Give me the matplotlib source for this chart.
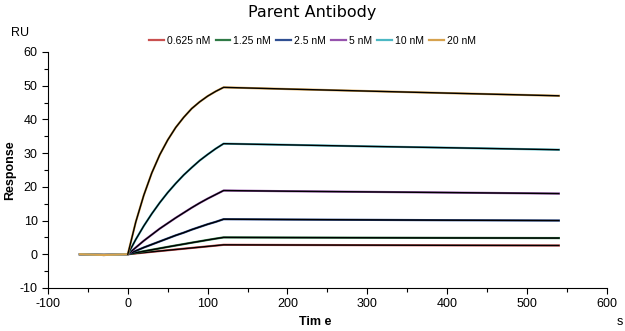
import numpy as np
import matplotlib.pyplot as plt
from matplotlib.ticker import MultipleLocator

plt.rcParams['font.family'] = ['Liberation Sans', 'DejaVu Sans']
plt.rcParams['axes.unicode_minus'] = False

# Concentrations and trace colours
labels = ['0.625 nM', '1.25 nM', '2.5 nM', '5 nM', '10 nM', '20 nM']
colors = ['#c9504f', '#2f7a46', '#2f4f92', '#9653ad', '#4cb8c4', '#d6a24e']

# Baseline (s)
t_base = [-60, -30, 0]
base = [0.0, -0.2, 0.0]

# Association phase (s) and responses (RU)
t_assoc = [0, 10, 20, 30, 40, 50, 60, 70, 80, 90, 100, 110, 120]
assoc = [
    [0, 0.24, 0.48, 0.72, 0.95, 1.18, 1.41, 1.64, 1.87, 2.10, 2.33, 2.56, 2.8],
    [0, 0.45, 0.89, 1.32, 1.75, 2.18, 2.60, 3.01, 3.43, 3.83, 4.24, 4.63, 5.0],
    [0, 1.0, 2.0, 2.9, 3.8, 4.7, 5.6, 6.4, 7.3, 8.1, 8.9, 9.6, 10.4],
    [0, 2.0, 4.0, 5.8, 7.6, 9.2, 10.8, 12.3, 13.8, 15.2, 16.5, 17.7, 18.9],
    [0, 4.4, 8.4, 12.0, 15.3, 18.3, 21.0, 23.5, 25.7, 27.8, 29.6, 31.3, 32.8],
    [0, 9.6, 17.5, 24.1, 29.5, 33.9, 37.6, 40.6, 43.2, 45.2, 46.9, 48.3, 49.5],
]

# Dissociation phase (s) and responses (RU)
t_dissoc = [120, 200, 300, 400, 540]
dissoc = [
    [2.8, 2.75, 2.7, 2.65, 2.6],
    [5.0, 4.95, 4.9, 4.85, 4.8],
    [10.4, 10.3, 10.2, 10.1, 10.0],
    [18.9, 18.7, 18.5, 18.3, 18.0],
    [32.8, 32.45, 32.0, 31.6, 31.0],
    [49.5, 49.0, 48.4, 47.8, 47.0],
]

fig = plt.figure(figsize=(6.25, 3.31), dpi=100)
ax = fig.add_axes([0.0768, 0.13, 0.894, 0.713])

for lab, col, a, d in zip(labels, colors, assoc, dissoc):
    t = t_base + t_assoc[1:] + t_dissoc[1:]
    y = base + a[1:] + d[1:]
    ax.plot(t, y, color=col, lw=1.6, label=lab)
    # fitted curve on top
    ax.plot(t_assoc + t_dissoc[1:], a + d[1:], color='black', lw=1.0)

ax.set_xlim(-100, 600)
ax.set_ylim(-10, 60)
ax.xaxis.set_major_locator(MultipleLocator(100))
ax.xaxis.set_minor_locator(MultipleLocator(50))
ax.yaxis.set_major_locator(MultipleLocator(10))
ax.yaxis.set_minor_locator(MultipleLocator(5))
ax.tick_params(which='both', direction='out', labelsize=9, width=0.8)
ax.tick_params(which='major', length=4)
ax.tick_params(which='minor', length=3)
ax.spines['top'].set_visible(False)
ax.spines['right'].set_visible(False)

fig.text(0.5, 0.962, 'Parent Antibody', ha='center', va='center',
         fontsize=11.5, family='DejaVu Sans')
fig.text(0.032, 0.9, 'RU', ha='center', va='center', fontsize=9)
fig.text(0.016, 0.486, 'Response', rotation=90, ha='center', va='center',
         fontsize=9, fontweight='bold')
fig.text(0.504, 0.027, 'Tim e', ha='center', va='center', fontsize=9,
         fontweight='bold')
fig.text(0.992, 0.027, 's', ha='center', va='center', fontsize=9)

ax.legend(loc='center', bbox_to_anchor=(0.5, 0.876), bbox_transform=fig.transFigure,
          ncol=6, frameon=False, fontsize=7.5, handlelength=1.4, handletextpad=0.3,
          columnspacing=0.5)

fig.savefig('out.png', dpi=100)
